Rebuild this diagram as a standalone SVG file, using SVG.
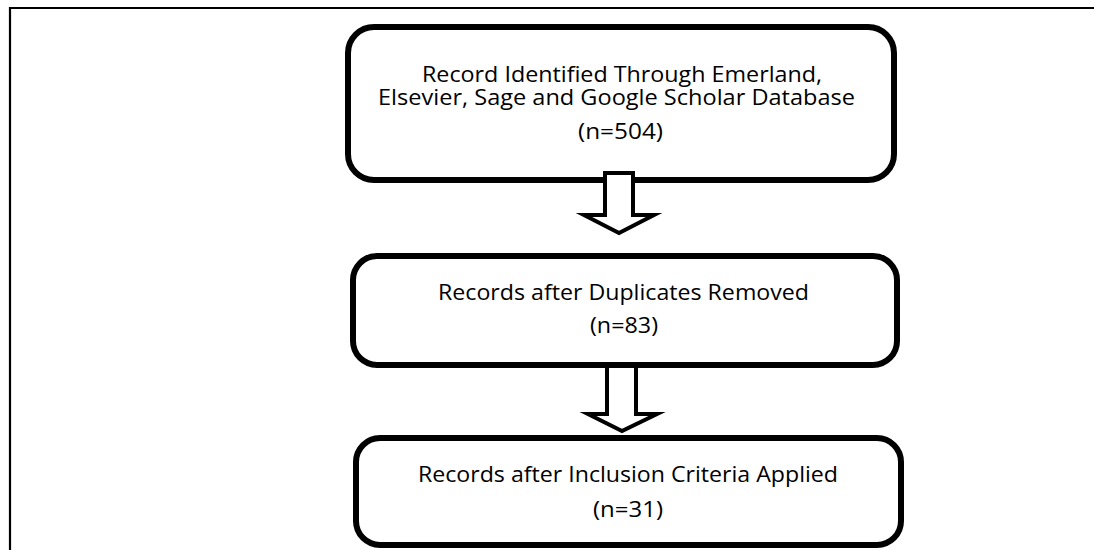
<svg xmlns="http://www.w3.org/2000/svg" width="1094" height="550" viewBox="0 0 1094 550">
<style>
.box{fill:#fff;stroke:#000;stroke-width:6}
.arrow{fill:#fff;stroke:#000;stroke-width:4;stroke-linejoin:miter;stroke-miterlimit:10}
.t{font-family:"Open Sans","Noto Sans","Liberation Sans",sans-serif;font-size:21.5px;fill:#000}
</style>
<rect width="1094" height="550" fill="#fff"/>
<path d="M10,550 V8 H1094" fill="none" stroke="#000" stroke-width="2.2"/>
<g id="node1">
<rect class="box" x="348" y="27" width="546" height="153" rx="26" ry="26"/>
<text class="t" x="422" y="82" textLength="400" lengthAdjust="spacingAndGlyphs">Record Identified Through Emerland,</text>
<text class="t" x="378" y="105" textLength="477" lengthAdjust="spacingAndGlyphs">Elsevier, Sage and Google Scholar Database</text>
<text class="t" x="578" y="139" textLength="85" lengthAdjust="spacingAndGlyphs">(n=504)</text>
</g>
<g id="node2">
<rect class="box" x="353" y="256" width="544" height="109" rx="24" ry="24"/>
<text class="t" x="438" y="300" textLength="371" lengthAdjust="spacingAndGlyphs">Records after Duplicates Removed</text>
<text class="t" x="590" y="333" textLength="68" lengthAdjust="spacingAndGlyphs">(n=83)</text>
</g>
<g id="node3">
<rect class="box" x="356" y="438" width="545" height="107" rx="24" ry="24"/>
<text class="t" x="418" y="482" textLength="420" lengthAdjust="spacingAndGlyphs">Records after Inclusion Criteria Applied</text>
<text class="t" x="593" y="517" textLength="70" lengthAdjust="spacingAndGlyphs">(n=31)</text>
</g>
<g id="connectors">
<polygon class="arrow" points="605,173 633,173 633,215 654,215 619,233 584,215 605,215"/>
<polygon class="arrow" points="607,366 636,366 636,414 657,414 622,431 588,414 607,414"/>
</g>
</svg>
